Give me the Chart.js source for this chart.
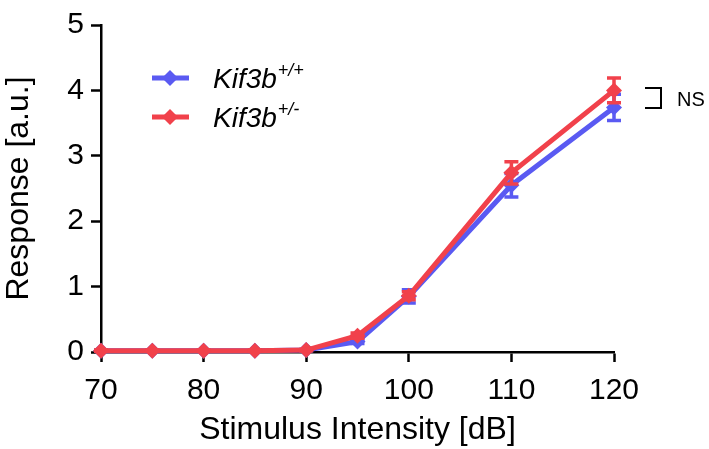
<!DOCTYPE html>
<html>
<head>
<meta charset="utf-8">
<script src="https://cdn.jsdelivr.net/npm/chart.js@4.4.0/dist/chart.umd.min.js"></script>
<style>
  html, body { margin: 0; padding: 0; background: #fff; }
  #wrap { width: 709px; height: 449px; }
</style>
</head>
<body>
<div id="wrap"><canvas id="resp" width="709" height="449"></canvas></div>
<script>
// stimulus levels (dB)
const levels = [70, 75, 80, 85, 90, 95, 100, 110, 120]
const xTicks = [70, 80, 90, 100, 110, 120]

// Kif3b +/+
const wtName = 'Kif3b'
const wtSup = '+/+'
const wtMean = [0.02, 0.02, 0.02, 0.02, 0.03, 0.16, 0.85, 2.55, 3.74]
const wtErr = [0.01, 0.01, 0.01, 0.01, 0.01, 0.03, 0.10, 0.18, 0.20]

// Kif3b +/-
const hetName = 'Kif3b'
const hetSup = '+/-'
const hetMean = [0.02, 0.02, 0.02, 0.02, 0.03, 0.25, 0.86, 2.74, 4.00]
const hetErr = [0.01, 0.01, 0.01, 0.01, 0.01, 0.04, 0.06, 0.17, 0.19]

const blue = '#5a5af2'
const red = '#f1414b'
const FONT = "'Liberation Sans', Arial, sans-serif"

function pts(xs, ys) {
  return xs.map(function (x, i) { return { x: x, y: ys[i] } })
}

// error bars drawn through the scales
const errorBars = {
  id: 'errorBars',
  afterDatasetDraw(chart, args) {
    const ds = chart.data.datasets[args.index]
    if (!ds.errors) return
    const ctx = chart.ctx
    const xs = chart.scales.x, ys = chart.scales.y
    ctx.save()
    ctx.strokeStyle = ds.borderColor
    ctx.lineWidth = 3.5
    ds.data.forEach(function (p, i) {
      const e = ds.errors[i]
      const px = xs.getPixelForValue(p.x)
      const top = ys.getPixelForValue(p.y + e)
      const bot = ys.getPixelForValue(p.y - e)
      ctx.beginPath()
      ctx.moveTo(px, top); ctx.lineTo(px, bot)
      ctx.moveTo(px - 7, top); ctx.lineTo(px + 7, top)
      ctx.moveTo(px - 7, bot); ctx.lineTo(px + 7, bot)
      ctx.stroke()
    })
    ctx.restore()
  }
}

// legend with superscript genotype + NS bracket
const extras = {
  id: 'extras',
  afterDraw(chart) {
    const ctx = chart.ctx
    ctx.save()
    const rows = [[wtName, wtSup, blue, 78], [hetName, hetSup, red, 117]]
    rows.forEach(function (r) {
      const y = r[3]
      ctx.strokeStyle = r[2]
      ctx.fillStyle = r[2]
      ctx.lineWidth = 5
      ctx.beginPath(); ctx.moveTo(152, y); ctx.lineTo(189, y); ctx.stroke()
      ctx.beginPath()
      ctx.moveTo(170, y - 8); ctx.lineTo(178, y); ctx.lineTo(170, y + 8); ctx.lineTo(162, y)
      ctx.closePath(); ctx.fill()
      ctx.fillStyle = '#000'
      ctx.textBaseline = 'alphabetic'
      ctx.font = 'italic 28px ' + FONT
      ctx.fillText(r[0], 213, y + 10)
      const w = ctx.measureText(r[0]).width
      ctx.font = 'italic 18px ' + FONT
      ctx.fillText(r[1], 213 + w + 1, y - 2)
    })
    // NS bracket
    ctx.strokeStyle = '#000'
    ctx.lineWidth = 2
    ctx.beginPath()
    ctx.moveTo(645, 88); ctx.lineTo(661, 88); ctx.lineTo(661, 108); ctx.lineTo(645, 108)
    ctx.stroke()
    ctx.fillStyle = '#000'
    ctx.font = '20px ' + FONT
    ctx.textBaseline = 'middle'
    ctx.fillText('NS', 677, 100)
    ctx.restore()
  }
}

new Chart('resp', {
  type: 'line',
  data: {
    datasets: [{
      label: wtName + wtSup,
      data: pts(levels, wtMean),
      errors: wtErr,
      order: 2,
      borderColor: blue,
      backgroundColor: blue,
      borderWidth: 5,
      pointStyle: 'rectRot',
      pointRadius: 8,
      pointBorderWidth: 0,
      clip: false
    }, {
      label: hetName + hetSup,
      data: pts(levels, hetMean),
      errors: hetErr,
      order: 1,
      borderColor: red,
      backgroundColor: red,
      borderWidth: 5,
      pointStyle: 'rectRot',
      pointRadius: 8,
      pointBorderWidth: 0,
      clip: false
    }]
  },
  plugins: [errorBars, extras],
  options: {
    responsive: false,
    animation: false,
    devicePixelRatio: 1,
    layout: { padding: { top: 16, right: 95, bottom: 0, left: 0 } },
    plugins: { legend: { display: false }, tooltip: { enabled: false } },
    scales: {
      x: {
        type: 'linear',
        min: 70, max: 120,
        afterBuildTicks: function (s) { s.ticks = xTicks.map(function (v) { return { value: v } }) },
        afterFit: function (s) { s.height = 97 },
        grid: { display: true, drawOnChartArea: false, drawTicks: true, tickLength: 10, tickWidth: 2.5, tickColor: '#000' },
        border: { display: true, color: '#000', width: 2.5 },
        ticks: { color: '#000', font: { family: FONT, size: 30 }, padding: 11, maxRotation: 0 },
        title: { display: true, text: 'Stimulus Intensity [dB]', color: '#000', font: { family: FONT, size: 32 }, padding: 0 }
      },
      y: {
        min: 0, max: 5,
        afterFit: function (s) { s.width = 101 },
        grid: { display: true, drawOnChartArea: false, drawTicks: true, tickLength: 10, tickWidth: 2.5, tickColor: '#000' },
        border: { display: true, color: '#000', width: 2.5 },
        ticks: { stepSize: 1, color: '#000', font: { family: FONT, size: 30 }, padding: 7 },
        title: { display: true, text: 'Response [a.u.]', color: '#000', font: { family: FONT, size: 32 }, padding: 0 }
      }
    }
  }
})
</script>
</body>
</html>
